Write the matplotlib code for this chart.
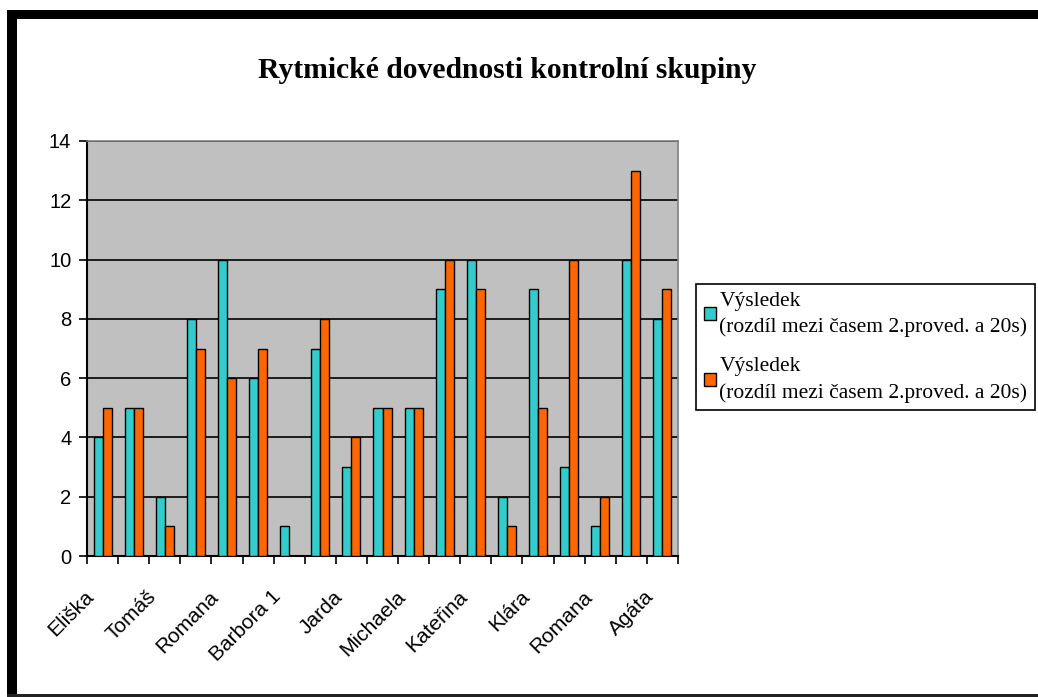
import numpy as np
import matplotlib
matplotlib.use("Agg")
import matplotlib.pyplot as plt
import matplotlib.transforms as mtransforms
from matplotlib.patches import Rectangle
from matplotlib.legend_handler import HandlerPatch

# Names shown under every other pair of bars (the rest stay blank)
names = ["Eliška", "", "Tomáš", "", "Romana", "", "Barbora 1", "", "Jarda", "",
         "Michaela", "", "Kateřina", "", "Klára", "", "Romana", "", "Agáta"]
vysledek_1 = [4, 5, 2, 8, 10, 6, 1, 7, 3, 5, 5, 9, 10, 2, 9, 3, 1, 10, 8]
vysledek_2 = [5, 5, 1, 7, 6, 7, 0, 8, 4, 5, 5, 10, 9, 1, 5, 10, 2, 13, 9]
series_label = "Výsledek\n(rozdíl mezi časem 2.proved. a 20s)"

W, H = 1038, 697
fig = plt.figure(figsize=(W / 100, H / 100), dpi=100)
fig.patch.set_facecolor("white")

ax = fig.add_axes([87 / W, 1 - 556 / H, (678 - 87) / W, (556 - 141) / H])
ax.set_facecolor("#C0C0C0")

x = np.arange(len(names))
bw = 0.29
ax.bar(x - bw / 2, vysledek_1, bw, color="#33CCCC", edgecolor="black",
       linewidth=1, label=series_label, zorder=3)
ax.bar(x + bw / 2, vysledek_2, bw, color="#FF6600", edgecolor="black",
       linewidth=1, label=series_label, zorder=3)

ax.set_xlim(-0.5, len(names) - 0.5)
ax.set_ylim(0, 14)
ax.set_yticks(range(0, 15, 2))
ax.yaxis.grid(True, color="black", linewidth=1.2, zorder=1)
ax.set_axisbelow(True)

# category boundaries carry the ticks
ax.set_xticks(np.arange(-0.5, len(names), 1))
ax.set_xticklabels([])
ax.tick_params(axis="x", length=5.5, width=1.2, direction="out")
ax.tick_params(axis="y", length=5.8, width=1.2, direction="out", labelsize=14.5,
               pad=5.5)
for lbl in ax.get_yticklabels():
    lbl.set_fontfamily("Liberation Sans")

# rotated names hang below the category centres
name_offset = mtransforms.ScaledTranslation(-0.18, -0.31, fig.dpi_scale_trans)
for xi, name in zip(x, names):
    if name:
        ax.text(xi, 0, name, transform=ax.get_xaxis_transform() + name_offset,
                rotation=45, rotation_mode="anchor", ha="right", va="top",
                fontsize=15, fontfamily="Liberation Sans")

for side in ("left", "bottom"):
    ax.spines[side].set_color("black")
    ax.spines[side].set_linewidth(1.5)
for side in ("top", "right"):
    ax.spines[side].set_color("#808080")
    ax.spines[side].set_linewidth(1.2)

fig.text(507 / W, 1 - 70 / H, "Rytmické dovednosti kontrolní skupiny",
         ha="center", va="center", fontsize=21.3, fontweight="bold",
         fontfamily="Liberation Serif")


# legend squares sit beside the first line of each two-line label
def top_square(legend, orig_handle, xdescent, ydescent, width, height, fontsize):
    side = 0.58 * fontsize
    return Rectangle((-xdescent, -ydescent + height / 2 + 0.17 * fontsize),
                     side, side)


leg = ax.legend(loc="upper left", bbox_to_anchor=(696 / W, 1 - 284 / H),
                bbox_transform=fig.transFigure, frameon=True, fancybox=False,
                edgecolor="black", framealpha=1, borderpad=0.35,
                borderaxespad=0, handlelength=0.6, handleheight=0.6,
                handletextpad=0.13, labelspacing=0.95,
                handler_map={Rectangle: HandlerPatch(patch_func=top_square)},
                prop={"family": "Liberation Serif", "size": 15.5})
leg.get_frame().set_linewidth(1.2)
for t in leg.get_texts():
    t.set_linespacing(1.45)

# outer chart frame
fig.add_artist(Rectangle((7 / W, 0), 10 / W, 1 - 10 / H, transform=fig.transFigure,
                         color="black", lw=0))
fig.add_artist(Rectangle((7 / W, 1 - 19 / H), 1 - 7 / W, 9 / H,
                         transform=fig.transFigure, color="black", lw=0))
fig.add_artist(Rectangle((7 / W, 0), 1 - 7 / W, 3 / H, transform=fig.transFigure,
                         color="#222222", lw=0))

fig.savefig("out.png", dpi=100)
